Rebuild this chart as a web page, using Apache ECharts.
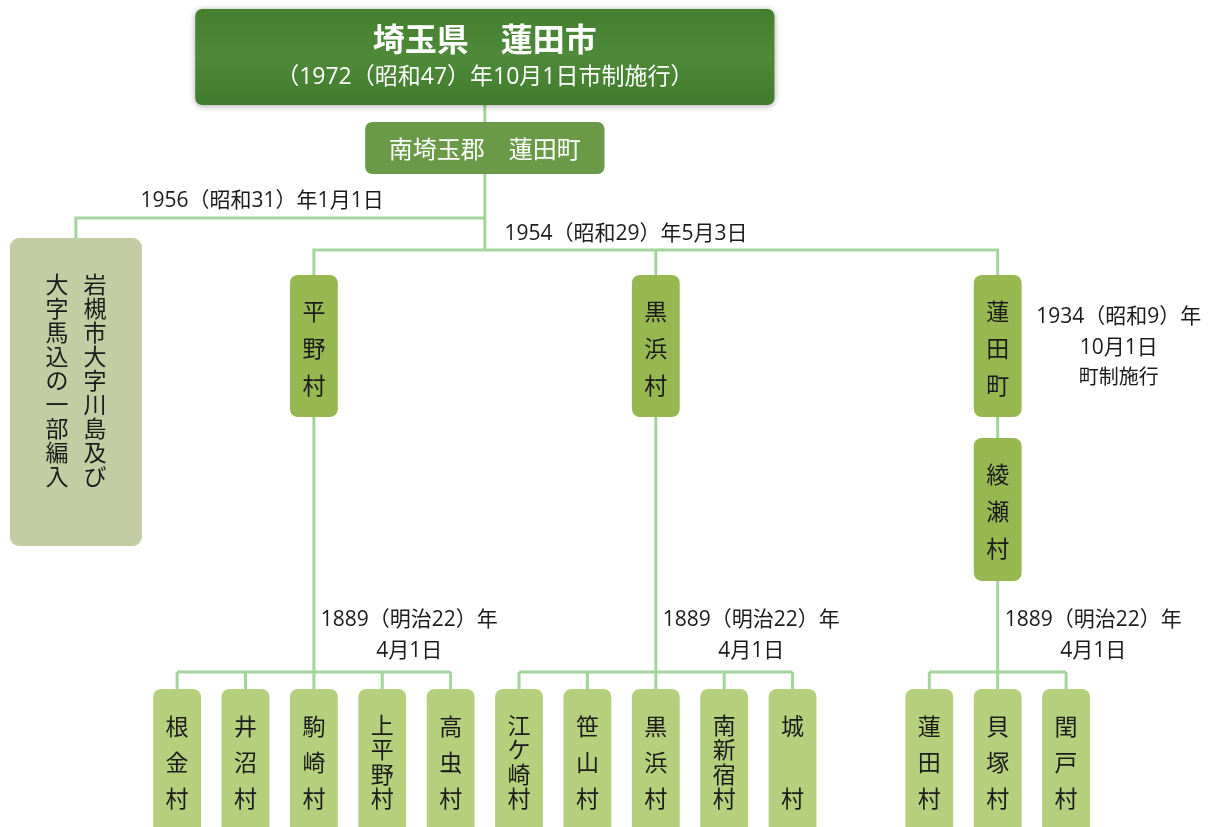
<!DOCTYPE html>
<html><head><meta charset="utf-8">
<script src="https://cdn.jsdelivr.net/npm/echarts@6/dist/echarts.min.js"></script>
<style>html,body{margin:0;padding:0;background:#fff}#c{width:1209px;height:827px}</style>
</head><body><div id="c"></div>
<script>
// ---------- data ----------
const cityName = '埼玉県　蓮田市';
const cityNote = '（1972（昭和47）年10月1日市制施行）';
const townName = '南埼玉郡　蓮田町';
const annexLines = ['岩槻市大字川島及び', '大字馬込の一部編入'];
const annexDate = '1956（昭和31）年1月1日';
const mergeDate = '1954（昭和29）年5月3日';
const mergedNames = ['平野村', '黒浜村', '蓮田町'];
const townOrigin = '綾瀬村';
const townDate = ['1934（昭和9）年', '10月1日', '町制施行'];
const villageNames = ['根金村','井沼村','駒崎村','上平野村','高虫村','江ケ崎村','笹山村','黒浜村','南新宿村','城村','蓮田村','貝塚村','閏戸村'];
const villageParent = [0,0,0,0,0,1,1,1,1,1,2,2,2];
const villageDate = ['1889（明治22）年', '4月1日'];

// ---------- layout (x in column slots, y in page units) ----------
const L = {
  slotMin: -2.59, slotMax: 15.09,
  citySlot: 4.5, annexSlot: -1.48,
  mergedSlot: [2, 7, 12],
  villageSlot: [0,1,2,3,4,5,6,7,8,9,11,12,13],
  cityTop: 9, cityBot: 105, townTop: 122, townBot: 174,
  annexBus: 218, mergeBus: 250, annexTop: 238, annexBot: 546,
  midTop: 275, midBot: 417, origTop: 438, origBot: 581,
  villBus: 672, villTop: 689, villBot: 845,
  wCity: 8.47, wTown: 3.5, wAnnex: 1.93, wNode: 0.70,
  annexColGap: 0.555
};
const FONT = '"Noto Sans CJK JP", "Noto Sans", sans-serif';
const LFONT = '"Open Sans", "Noto Sans CJK JP", sans-serif';
const C = { town: '#6a9a48', annex: '#c3cca2', mid: '#97b851', vill: '#b5cf7c', line: '#a3d49c', text: '#1b1b1b' };
const cityFill = new echarts.graphic.LinearGradient(0, 0, 0, 1, [
  { offset: 0, color: '#447f30' }, { offset: 0.5, color: '#4e8a3a' }, { offset: 1, color: '#417b2d' }]);

function vert(name) {
  const ch = Array.from(name);
  if (ch.length === 2) return { text: ch[0] + '\n\n' + ch[1], lh: 36 };
  if (ch.length >= 4) return { text: ch.join('\n'), lh: 24.5 };
  return { text: ch.join('\n'), lh: 36 };
}

// ---------- boxes ----------
const boxes = [];
boxes.push({ slot: L.citySlot, top: L.cityTop, bot: L.cityBot, w: L.wCity, fill: cityFill, r: 7, shadow: true, texts: [
  { dx: 0, y: 39, text: cityName, font: 'bold 32px ' + FONT, color: '#fff' },
  { dx: 0, y: 77, text: cityNote, font: '23px ' + LFONT, color: '#fff' } ] });
boxes.push({ slot: L.citySlot, top: L.townTop, bot: L.townBot, w: L.wTown, fill: C.town, r: 7, texts: [
  { dx: 0, y: 149, text: townName, font: '24px ' + FONT, color: '#fff' } ] });
boxes.push({ slot: L.annexSlot, top: L.annexTop, bot: L.annexBot, w: L.wAnnex, fill: C.annex, r: 9, texts: [
  { dx: L.annexColGap / 2, y: 380, text: Array.from(annexLines[0]).join('\n'), font: '23px ' + FONT, color: C.text, lh: 24 },
  { dx: -L.annexColGap / 2, y: 380, text: Array.from(annexLines[1]).join('\n'), font: '23px ' + FONT, color: C.text, lh: 24 } ] });
mergedNames.forEach((n, i) => {
  const v = vert(n);
  boxes.push({ slot: L.mergedSlot[i], top: L.midTop, bot: L.midBot, w: L.wNode, fill: C.mid, r: 8, texts: [
    { dx: 0, y: 348, text: v.text, font: '23px ' + FONT, color: C.text, lh: 37 } ] });
});
{
  const v = vert(townOrigin);
  boxes.push({ slot: L.mergedSlot[2], top: L.origTop, bot: L.origBot, w: L.wNode, fill: C.mid, r: 8, texts: [
    { dx: 0, y: 511, text: v.text, font: '23px ' + FONT, color: C.text, lh: 37 } ] });
}
villageNames.forEach((n, i) => {
  const v = vert(n);
  boxes.push({ slot: L.villageSlot[i], top: L.villTop, bot: L.villBot, w: L.wNode, fill: C.vill, r: 8, texts: [
    { dx: 0, y: 762, text: v.text, font: '23px ' + FONT, color: C.text, lh: v.lh } ] });
});

// ---------- connectors ----------
const links = [];
links.push([[L.citySlot, L.cityBot], [L.citySlot, L.townTop]]);
links.push([[L.citySlot, L.townBot], [L.citySlot, L.mergeBus]]);
links.push([[L.citySlot, L.annexBus], [L.annexSlot, L.annexBus], [L.annexSlot, L.annexTop]]);
links.push([[L.mergedSlot[0], L.midTop], [L.mergedSlot[0], L.mergeBus], [L.mergedSlot[2], L.mergeBus], [L.mergedSlot[2], L.midTop]]);
links.push([[L.mergedSlot[1], L.mergeBus], [L.mergedSlot[1], L.midTop]]);
links.push([[L.mergedSlot[2], L.midBot], [L.mergedSlot[2], L.origTop]]);
mergedNames.forEach((n, g) => {
  const from = g === 2 ? L.origBot : L.midBot;
  links.push([[L.mergedSlot[g], from], [L.mergedSlot[g], L.villBus]]);
  const kids = L.villageSlot.filter((s, i) => villageParent[i] === g);
  links.push([[Math.min(...kids), L.villBus], [Math.max(...kids), L.villBus]]);
  kids.forEach(s => links.push([[s, L.villBus], [s, L.villTop]]));
});

// ---------- free labels ----------
const labels = [];
labels.push({ slot: 1.243, y: 201, text: annexDate, size: 21 });
labels.push({ slot: 6.564, y: 234, text: mergeDate, size: 21 });
labels.push({ slot: 13.77, y: 317, text: townDate[0], size: 21 });
labels.push({ slot: 13.77, y: 348, text: townDate[1], size: 21 });
labels.push({ slot: 13.77, y: 378, text: townDate[2], size: 20 });
mergedNames.forEach((n, g) => {
  labels.push({ slot: L.mergedSlot[g] + 1.396, y: 620, text: villageDate[0], size: 21 });
  labels.push({ slot: L.mergedSlot[g] + 1.396, y: 651, text: villageDate[1], size: 21 });
});

const chart = echarts.init(document.getElementById('c'), null, { renderer: 'canvas' });
chart.setOption({
  backgroundColor: '#ffffff',
  animation: false,
  grid: { left: 0, right: 0, top: 0, bottom: 0 },
  xAxis: { type: 'value', min: L.slotMin, max: L.slotMax, show: false },
  yAxis: { type: 'value', min: 0, max: 827, inverse: true, show: false },
  series: [
    {
      type: 'custom', clip: false, z: 1,
      data: links.map((_, i) => [links[i][0][0], links[i][0][1], i]),
      encode: { x: 0, y: 1 },
      renderItem(params, api) {
        const pts = links[api.value(2)].map(p => api.coord(p));
        return { type: 'polyline', shape: { points: pts }, style: { stroke: C.line, lineWidth: 3, fill: null, lineJoin: 'miter' } };
      }
    },
    {
      type: 'custom', clip: false, z: 2,
      data: boxes.map((b, i) => [b.slot, b.top, b.bot, b.w, i]),
      encode: { x: 0, y: 1 },
      renderItem(params, api) {
        const b = boxes[api.value(4)];
        const tl = api.coord([api.value(0) - api.value(3) / 2, api.value(1)]);
        const br = api.coord([api.value(0) + api.value(3) / 2, api.value(2)]);
        const children = [{
          type: 'rect',
          shape: { x: tl[0], y: tl[1], width: br[0] - tl[0], height: br[1] - tl[1], r: b.r },
          style: b.shadow ? { fill: b.fill, shadowBlur: 6, shadowColor: 'rgba(0,0,0,0.35)', shadowOffsetY: 1 } : { fill: b.fill }
        }];
        b.texts.forEach(t => {
          const p = api.coord([api.value(0) + t.dx, t.y]);
          children.push({ type: 'text', style: { text: t.text, x: p[0], y: p[1], fill: t.color, font: t.font, align: 'center', verticalAlign: 'middle', lineHeight: t.lh || undefined } });
        });
        return { type: 'group', children };
      }
    },
    {
      type: 'custom', clip: false, z: 3,
      data: labels.map((l, i) => [l.slot, l.y, i]),
      encode: { x: 0, y: 1 },
      renderItem(params, api) {
        const l = labels[api.value(2)];
        const p = api.coord([api.value(0), api.value(1)]);
        return { type: 'text', style: { text: l.text, x: p[0], y: p[1], fill: C.text, font: l.size + 'px ' + LFONT, align: 'center', verticalAlign: 'middle' } };
      }
    }
  ]
});
</script></body></html>
